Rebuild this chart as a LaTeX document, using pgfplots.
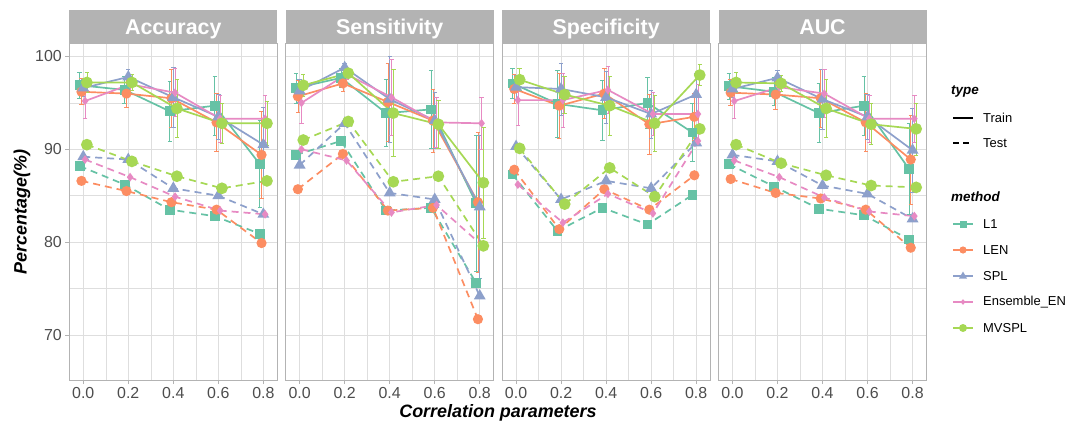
\documentclass[border=0pt]{standalone}
\usepackage{fontspec}
\setmainfont{Liberation Sans}
\usepackage{pgfplots}
\usepackage{pgfplotstable}
\pgfplotsset{compat=1.18}

\definecolor{cL1}{HTML}{66C2A5}
\definecolor{cLEN}{HTML}{FC8D62}
\definecolor{cSPL}{HTML}{8DA0CB}
\definecolor{cEN}{HTML}{E78AC3}
\definecolor{cMV}{HTML}{A6D854}
\definecolor{stripgray}{HTML}{B3B3B3}
\definecolor{gridgray}{HTML}{DEDEDE}
\definecolor{ticklab}{HTML}{4D4D4D}

% train: value + sd, test: value
\pgfplotstableread{
x   L1   L1e LEN  LENe SPL  SPLe EN   ENe MV   MVe tL1  tLEN tSPL tEN  tMV
0.0 96.9 1.4 96.2 1.4  96.6 0.9  95.2 1.9 97.2 1.1 88.2 86.6 89.2 88.9 90.5
0.2 96.4 1.5 96.0 1.5  97.8 0.8  97.0 0.6 97.2 0.9 86.2 85.5 88.9 87.0 88.7
0.4 94.1 3.2 95.5 3.1  95.6 3.2  96.1 2.6 94.4 3.1 83.5 84.3 85.8 84.9 87.1
0.6 94.7 3.2 92.9 3.1  93.5 2.4  93.3 2.5 92.8 2.2 82.8 83.5 85.0 83.4 85.8
0.8 88.4 4.7 89.4 4.7  90.5 4.0  93.3 2.5 92.8 2.4 80.9 79.9 83.0 83.0 86.6
}\accuracy
\pgfplotstableread{
x   L1   L1e LEN  LENe SPL  SPLe EN   ENe MV   MVe tL1  tLEN tSPL tEN  tMV
0.0 96.6 1.6 95.7 1.7  96.3 1.2  95.0 2.2 96.9 1.2 89.4 85.7 88.3 90.0 91.0
0.2 97.7 1.0 97.1 0.9  98.8 0.5  98.1 0.6 98.2 0.5 90.9 89.5 92.8 88.8 93.0
0.4 93.9 3.6 95.1 4.2  95.4 4.6  95.6 4.1 93.9 4.7 83.4 83.4 85.3 83.2 86.5
0.6 94.3 4.2 93.1 3.4  93.1 3.0  92.9 2.7 92.7 2.6 83.7 83.7 84.6 84.0 87.1
0.8 84.2 7.3 84.3 7.5  83.8 7.7  92.8 2.8 86.4 6.0 75.6 71.7 74.2 79.7 79.6
}\sensitivity
\pgfplotstableread{
x   L1   L1e LEN  LENe SPL  SPLe EN   ENe MV   MVe tL1  tLEN tSPL tEN  tMV
0.0 97.1 1.6 96.5 1.6  96.7 1.3  95.3 2.7 97.5 1.2 87.3 87.8 90.3 86.2 90.1
0.2 94.9 3.6 94.7 3.5  96.5 2.8  95.3 2.9 95.9 2.0 81.2 81.4 84.6 82.1 84.1
0.4 94.2 3.2 96.0 2.7  95.6 2.8  96.4 2.5 94.7 3.2 83.7 85.7 86.6 85.2 88.0
0.6 95.0 2.7 92.7 3.2  93.8 2.6  93.8 2.3 92.8 3.0 81.9 83.5 85.8 83.1 84.9
0.8 91.8 3.1 93.5 2.5  95.9 2.3  93.8 3.2 98.0 1.1 85.1 87.2 90.7 90.9 92.2
}\specificity
\pgfplotstableread{
x   L1   L1e LEN  LENe SPL  SPLe EN   ENe MV   MVe tL1  tLEN tSPL tEN  tMV
0.0 96.8 1.4 96.1 1.4  96.5 0.9  95.2 1.9 97.2 1.1 88.4 86.8 89.4 88.8 90.5
0.2 96.2 1.5 95.9 1.6  97.7 0.8  96.7 0.6 97.1 0.9 86.0 85.3 88.7 87.0 88.5
0.4 93.9 3.2 95.5 3.1  95.4 3.2  96.0 2.6 94.4 3.1 83.6 84.7 86.1 84.8 87.2
0.6 94.7 3.2 92.9 3.1  93.5 2.4  93.3 2.5 92.7 2.2 82.9 83.5 85.2 83.3 86.1
0.8 87.9 4.9 88.9 4.8  89.9 4.5  93.3 2.5 92.2 2.8 80.3 79.4 82.5 82.8 85.9
}\auc

\pgfplotsset{
  sL1/.style={color=cL1, mark=square*, mark size=4bp},
  sLEN/.style={color=cLEN, mark=*, mark size=4.2bp},
  sSPL/.style={color=cSPL, mark=triangle*, mark size=5.2bp},
  sEN/.style={color=cEN, mark=diamond*, mark size=3bp},
  sMV/.style={color=cMV, mark=*, mark size=5bp},
  tr/.style={line width=1.7bp, mark options={solid},
    error bars/.cd, y dir=both, y explicit,
    error bar style={line width=0.7bp, solid},
    error mark options={rotate=90, mark size=2.2bp, line width=0.7bp}},
  te/.style={line width=1.7bp, dash pattern=on 7bp off 5bp, mark options={solid}},
  panel/.style={
    scale only axis, width=208bp, height=336.7bp, anchor=south west,
    xmin=-0.062, xmax=0.862, ymin=65.15, ymax=101.42,
    xtick={0,0.2,0.4,0.6,0.8}, xticklabels={0.0,0.2,0.4,0.6,0.8},
    minor xtick={0.1,0.3,0.5,0.7},
    ytick={70,80,90,100}, minor ytick={75,85,95},
    grid=both,
    major grid style={draw=gridgray, line width=0.8bp},
    minor grid style={draw=gridgray, line width=0.5bp},
    axis line style={draw=stripgray, line width=0.9bp},
    tick pos=left, tick align=outside,
    major tick length=4bp, minor tick length=0pt,
    tick style={draw=stripgray, line width=0.8bp},
    tick label style={font=\fontsize{16}{18}\selectfont, text=ticklab},
    /pgf/number format/assume math mode=true,
    every axis title/.style={at={(0.5,1)}, anchor=south, fill=stripgray,
      text=white, font=\fontsize{21.5}{24}\selectfont\bfseries,
      text height=15.5bp, text depth=0pt,
      minimum width=208bp, minimum height=33.3bp, inner sep=0pt, outer sep=0pt},
  },
}

\newcommand{\panel}[4]{%
\begin{axis}[panel, at={(#3bp,44bp)}, title={#2}, #4]
  \addplot[sL1, te] table[x expr=\thisrow{x}-0.016, y=tL1]{#1};
  \addplot[sLEN, te] table[x expr=\thisrow{x}-0.008, y=tLEN]{#1};
  \addplot[sSPL, te] table[x expr=\thisrow{x}, y=tSPL]{#1};
  \addplot[sEN, te] table[x expr=\thisrow{x}+0.008, y=tEN]{#1};
  \addplot[sMV, te] table[x expr=\thisrow{x}+0.016, y=tMV]{#1};
  \addplot[sL1, tr] table[x expr=\thisrow{x}-0.016, y=L1, y error=L1e]{#1};
  \addplot[sLEN, tr] table[x expr=\thisrow{x}-0.008, y=LEN, y error=LENe]{#1};
  \addplot[sSPL, tr] table[x expr=\thisrow{x}, y=SPL, y error=SPLe]{#1};
  \addplot[sEN, tr] table[x expr=\thisrow{x}+0.008, y=EN, y error=ENe]{#1};
  \addplot[sMV, tr] table[x expr=\thisrow{x}+0.016, y=MV, y error=MVe]{#1};
\end{axis}}

\begin{document}
\begin{tikzpicture}[x=1bp, y=1bp]
\useasboundingbox (0,0) rectangle (1071,424);

\panel{\accuracy}{Accuracy}{69.3}{}
\panel{\sensitivity}{Sensitivity}{285.7}{yticklabels={}, y tick style={draw=none}}
\panel{\specificity}{Specificity}{502.1}{yticklabels={}, y tick style={draw=none}}
\panel{\auc}{AUC}{718.5}{yticklabels={}, y tick style={draw=none}}

% axis titles
\node[rotate=90, font=\fontsize{18}{20}\selectfont\bfseries\itshape] at (22,212) {Percentage(\%)};
\node[font=\fontsize{18}{20}\selectfont\bfseries\itshape] at (498,11) {Correlation parameters};

% legend: type
\begin{scope}[font=\fontsize{13}{15}\selectfont]
\node[anchor=west, inner sep=0pt, font=\fontsize{13.5}{15}\selectfont\bfseries\itshape] at (951,332) {type};
\draw[line width=1.7bp] (953,306) -- (973,306);
\node[anchor=west, inner sep=0pt] at (983,306) {Train};
\draw[line width=1.7bp, dash pattern=on 6bp off 4bp] (953,281) -- (973,281);
\node[anchor=west, inner sep=0pt] at (983,281) {Test};

\node[anchor=west, inner sep=0pt, font=\fontsize{13.5}{15}\selectfont\bfseries\itshape] at (951,227) {method};
\draw[cL1, line width=1.7bp] (953,200) -- (973,200);
\fill[cL1] (959.5,196.5) rectangle (966.5,203.5);
\node[anchor=west, inner sep=0pt] at (983,200) {L1};
\draw[cLEN, line width=1.7bp] (953,174) -- (973,174);
\fill[cLEN] (963,174) circle (3.6);
\node[anchor=west, inner sep=0pt] at (983,174) {LEN};
\draw[cSPL, line width=1.7bp] (953,148) -- (973,148);
\fill[cSPL] (963,152.5) -- (959,145.5) -- (967,145.5) -- cycle;
\node[anchor=west, inner sep=0pt] at (983,148) {SPL};
\draw[cEN, line width=1.7bp] (953,122) -- (973,122);
\fill[cEN] (963,124.8) -- (965.5,122) -- (963,119.2) -- (960.5,122) -- cycle;
\node[anchor=west, inner sep=0pt] at (983,122) {Ensemble\_EN};
\draw[cMV, line width=1.7bp] (953,96) -- (973,96);
\fill[cMV] (963,96) circle (4);
\node[anchor=west, inner sep=0pt] at (983,96) {MVSPL};
\end{scope}
\end{tikzpicture}
\end{document}
